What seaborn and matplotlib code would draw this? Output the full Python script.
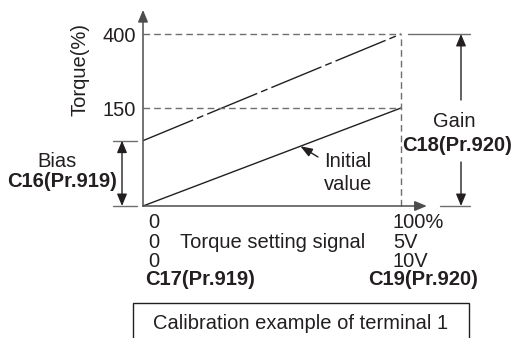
import numpy as np
import pandas as pd
import matplotlib
matplotlib.use('Agg')
import matplotlib.pyplot as plt
import matplotlib.transforms as mtransforms
from matplotlib.patches import Rectangle
import seaborn as sns

# torque setting signal (% of full scale) and output torque (%)
signal = [0, 100]
initial_torque = [0, 150]
calibrated_torque = [100, 400]
torque_ticks = [150, 400]
bias_level = 100
gain_level = 400
labels_at_0 = ['0', '0', '0']
labels_at_100 = ['100%', '5V', '10V']

sns.set_theme(style='white')
plt.rcParams['font.family'] = ['Liberation Sans', 'DejaVu Sans']

W, H = 513, 338
ink = '#231f20'
grey = '#6d6e71'
fs = 14.5

fig = plt.figure(figsize=(W / 100, H / 100), dpi=100)
ax = fig.add_axes([143 / W, 132 / H, 258 / W, 172 / H])
ax.patch.set_alpha(0)

# schematic torque axis: lower part stretched, upper part compressed
tq = [0, 150, 400]
pos = [0, 98, 172]
ax.set_yscale('function', functions=(lambda v: np.interp(v, tq, pos),
                                     lambda v: np.interp(v, pos, tq)))
ax.set_xlim(0, 100)
ax.set_ylim(0, 400)
for s in ax.spines.values():
    s.set_visible(False)
ax.set_xticks([])
ax.set_yticks(torque_ticks, labels=[str(t) for t in torque_ticks])
ax.tick_params(axis='y', length=0, pad=5, labelsize=fs, labelcolor=ink)

data = pd.DataFrame({'signal': signal, 'initial': initial_torque,
                     'calibrated': calibrated_torque})
sns.lineplot(data=data, x='signal', y='initial', ax=ax, color=ink, lw=1.0,
             clip_on=False)
sns.lineplot(data=data, x='signal', y='calibrated', ax=ax, color=ink, lw=1.0,
             linestyle=(0, (39, 3, 5, 3)), clip_on=False)
ax.set_xlabel('')
ax.set_ylabel('')

# guide lines
guide = dict(color=grey, lw=1, dashes=(4.8, 2.9), clip_on=False)
ax.plot([0, 100], [gain_level, gain_level], **guide)
ax.plot([0, 100], [150, 150], **guide)
ax.plot([100, 100], [0, gain_level], **guide)

# axes with arrows
head = '-|>,head_length=0.6,head_width=0.25'
ax.annotate('', xy=(0, 1.14), xytext=(0, 0), xycoords='axes fraction',
            arrowprops=dict(arrowstyle=head, color='#4d4d4f', lw=1.1,
                            shrinkA=0, shrinkB=0))
ax.annotate('', xy=(1.10, 0), xytext=(0, 0), xycoords='axes fraction',
            arrowprops=dict(arrowstyle=head, color='#4d4d4f', lw=1.1,
                            shrinkA=0, shrinkB=0))

bt = mtransforms.blended_transform_factory(fig.transFigure, ax.transData)

# bias dimension
for lvl in [bias_level, 0]:
    ax.plot([113 / W, 137 / W], [lvl, lvl], transform=bt, color=grey, lw=1,
            clip_on=False)
ax.annotate('', xy=(122 / W, bias_level), xytext=(122 / W, 0),
            xycoords=bt, textcoords=bt,
            arrowprops=dict(arrowstyle='<|-|>,head_length=0.6,head_width=0.25',
                            color=ink, lw=1, shrinkA=0, shrinkB=0))

# gain dimension
ax.plot([408 / W, 470 / W], [gain_level, gain_level], transform=bt, color=grey,
        lw=1, clip_on=False)
ax.plot([440 / W, 470 / W], [0, 0], transform=bt, color=grey, lw=1,
        clip_on=False)
ax.annotate('', xy=(461 / W, gain_level), xycoords=bt,
            xytext=(461 / W, 1 - 100 / H), textcoords='figure fraction',
            arrowprops=dict(arrowstyle=head, color=ink, lw=1, shrinkA=0, shrinkB=0))
ax.annotate('', xy=(461 / W, 0), xycoords=bt,
            xytext=(461 / W, 1 - 162 / H), textcoords='figure fraction',
            arrowprops=dict(arrowstyle=head, color=ink, lw=1, shrinkA=0, shrinkB=0))

# initial value pointer
ax.annotate('', xy=(61, 91.5), xycoords='data',
            xytext=(318 / W, 1 - 157 / H), textcoords='figure fraction',
            arrowprops=dict(arrowstyle='-|>,head_length=0.6,head_width=0.22',
                            color=ink, lw=1, shrinkA=0, shrinkB=0))


def txt(x, y, s, ha='left', bold=False, **kw):
    fig.text(x / W, 1 - y / H, s, ha=ha, va='baseline', fontsize=fs, color=ink,
             fontweight='bold' if bold else 'normal', **kw)


fig.text(80 / W, 1 - 69 / H, 'Torque(%)', rotation=90, ha='center', va='center',
         fontsize=fs, color=ink)
txt(57, 167, 'Bias', ha='center')
txt(117, 187, 'C16(Pr.919)', ha='right', bold=True)
txt(454, 127, 'Gain', ha='center')
txt(457, 151, 'C18(Pr.920)', ha='center', bold=True)
txt(324, 167, 'Initial')
txt(324, 190, 'value')

for lab, y in zip(labels_at_0, [228, 248, 267]):
    txt(148, y, lab)
for lab, y in zip(labels_at_100, [228, 248, 267]):
    txt(393, y, lab)
txt(180, 248, 'Torque setting signal')
txt(145, 285, 'C17(Pr.919)', bold=True)
txt(478, 285, 'C19(Pr.920)', ha='right', bold=True)

fig.add_artist(Rectangle((133 / W, -0.2), (469 - 133) / W, 0.2 + 1 - 303 / H,
                         transform=fig.transFigure, fill=False, ec=ink, lw=1))
txt(301, 329, 'Calibration example of terminal 1', ha='center')

fig.savefig('out.png', dpi=100)
